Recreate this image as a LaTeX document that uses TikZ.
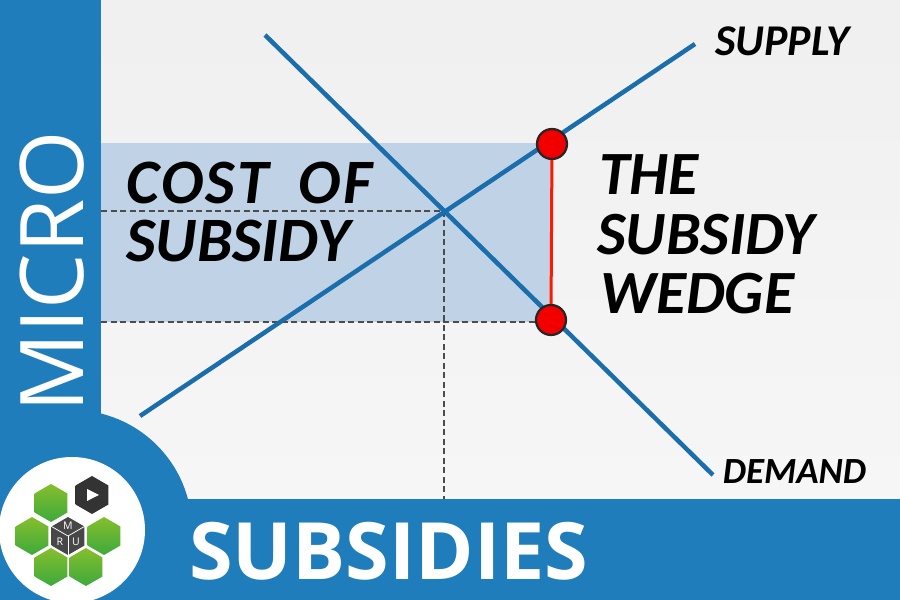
\documentclass[tikz,border=0pt]{standalone}
\usepackage{fontspec}
\setmainfont{Open Sans}
\newfontfamily\comicfont{Carlito}[BoldItalicFont={Carlito Bold Italic}]
\usetikzlibrary{calc,shapes.geometric}
\definecolor{barblue}{RGB}{31,125,188}
\definecolor{lineblue}{RGB}{26,110,172}
\definecolor{shadeblue}{RGB}{192,211,230}
\definecolor{cellhigh}{RGB}{135,190,45}
\definecolor{celllow}{RGB}{60,170,60}
\tikzset{
	curve/.style={line width=0.9mm, color=lineblue},
	guide/.style={dash pattern=on 1.2mm off 0.7mm, line width=0.25mm, color=black!70},
	dot/.style={circle, draw=black!85, fill=red!95!black, line width=0.45mm, minimum size=0.6cm, inner sep=0},
	comic/.style={font=\comicfont\bfseries\itshape\fontsize{35}{35}\selectfont, color=black, anchor=west, inner sep=0},
	small comic/.style={comic, font=\comicfont\bfseries\itshape\fontsize{25}{25}\selectfont},
	cell/.style={regular polygon, regular polygon sides=6, shape border rotate=30, minimum size=0.76cm, inner sep=0, top color=cellhigh, bottom color=celllow},
	cube letter/.style={font=\fontsize{6}{6}\selectfont, color=white, inner sep=0}
}

\begin{document}
\begin{tikzpicture}
	%%%%% START %%%%%
	\useasboundingbox (0, 0) rectangle (18, 12);
	\shade[top color=black!6, bottom color=black!3] (0, 0) rectangle (18, 12);

	\fill[shadeblue] (2.02, 5.56) rectangle (11.04, 9.14);

	\coordinate (supplylow) at (2.8, 3.68);
	\coordinate (supplyhigh) at (13.9, 11.12);
	\coordinate (demandhigh) at (5.3, 11.3);
	\coordinate (demandlow) at (14.26, 2.5);
	\coordinate (equil) at (8.88, 7.78);
	\coordinate (priceleft) at (2.02, 7.78);
	\coordinate (lowleft) at (2.02, 5.56);
	\coordinate (lowright) at (11.02, 5.56);
	\coordinate (quantbase) at (8.88, 2.02);

	\draw[guide] (priceleft) -- (equil);
	\draw[guide] (lowleft) -- (lowright);
	\draw[guide] (equil) -- (quantbase);

	\draw[curve] (supplylow) -- (supplyhigh);
	\draw[curve] (demandhigh) -- (demandlow);

	\node[dot] (highdot) at (11.04, 9.12) {};
	\node[dot] (lowdot) at (11.02, 5.6) {};
	\draw[line width=0.6mm, color=red!80!orange] (highdot) -- (lowdot);

	\node[comic, font=\comicfont\bfseries\itshape\fontsize{36}{36}\selectfont\addfontfeature{LetterSpace=4}] (costlabel) at (2.52, 8.34) {COST\hspace{0.26cm} OF};
	\node[comic, font=\comicfont\bfseries\itshape\fontsize{36}{36}\selectfont] (subsidylabel) at (2.52, 7.18) {SUBSIDY};
	\node[comic] (thelabel) at (11.98, 8.5) {THE};
	\node[comic] (wedgesubsidy) at (11.94, 7.3) {SUBSIDY};
	\node[comic] (wedgelabel) at (12.0, 6.12) {WEDGE};
	\node[small comic] (supplylabel) at (14.3, 11.18) {SUPPLY};
	\node[small comic, font=\comicfont\bfseries\itshape\fontsize{21}{21}\selectfont] (demandlabel) at (14.45, 2.56) {DEMAND};

	\fill[barblue] (0, 2.02) rectangle (2.02, 12);
	\fill[barblue] (0, 0) rectangle (18, 2.02);
	\begin{scope}
		\clip (0, 0) rectangle (18, 12);
		\fill[barblue] (1.44, 1.4) circle (2.4);
		\fill[white] (1.44, 1.4) circle (1.46);
	\end{scope}

	\node[rotate=90, font=\fontsize{50}{50}\selectfont, color=white, inner sep=0] (microlabel) at (1.05, 6.56) {MICRO};
	\node[font=\fontsize{45}{45}\selectfont\bfseries, color=white, anchor=west, inner sep=0] (titlelabel) at (3.78, 0.98) {SUBSIDIES};

	\node[cell] (celltop) at (1.02, 1.94) {};
	\node[cell] (cellleft) at (0.64, 1.28) {};
	\node[cell] (cellright) at (2.08, 1.28) {};
	\node[cell] (celllowleft) at (1.02, 0.66) {};
	\node[cell] (celllowright) at (1.72, 0.66) {};
	\node[cell, top color=black!80, bottom color=black!80] (playcell) at (1.84, 2.1) {};
	\fill[white] (1.74, 2.22) -- (1.74, 1.98) -- (1.98, 2.1) -- cycle;

	\node[cell, top color=black!72, bottom color=black!72] (cube) at (1.36, 1.28) {};
	\draw[white, line width=0.15mm] (cube.center) -- (cube.corner 2);
	\draw[white, line width=0.15mm] (cube.center) -- (cube.corner 4);
	\draw[white, line width=0.15mm] (cube.center) -- (cube.corner 6);
	\node[cube letter] (cubem) at (1.36, 1.48) {M};
	\node[cube letter] (cuber) at (1.2, 1.16) {R};
	\node[cube letter] (cubeu) at (1.52, 1.16) {U};
	%%%%% END %%%%%
\end{tikzpicture}
\end{document}
